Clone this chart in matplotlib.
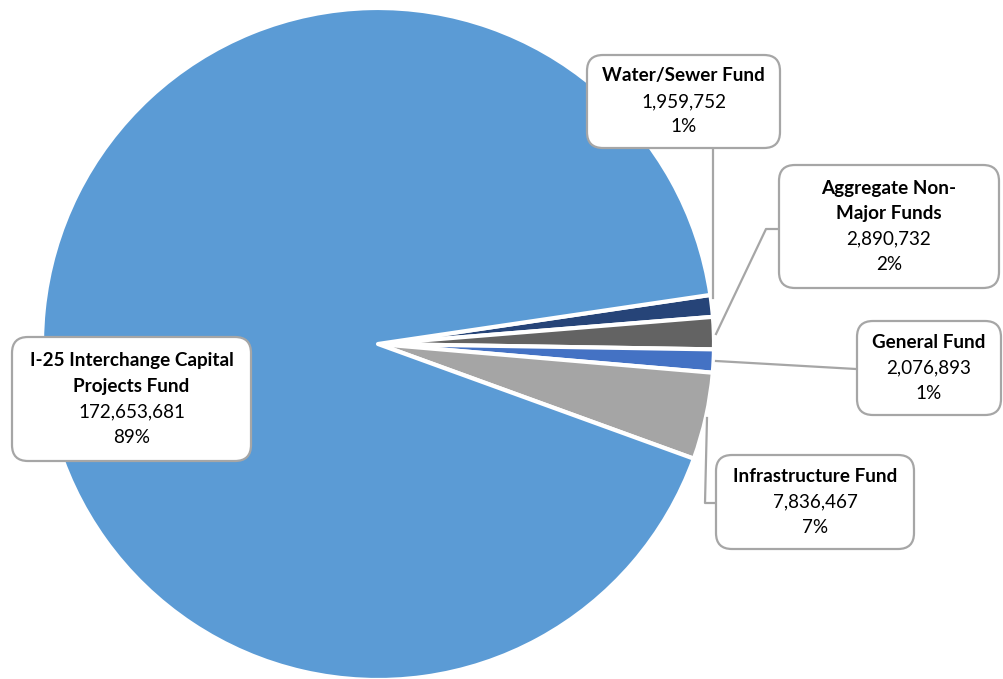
import matplotlib.pyplot as plt
from matplotlib.patches import FancyBboxPatch

# fund balances, listed clockwise starting from the Water/Sewer slice
funds = ['Water/Sewer Fund', 'Aggregate Non-\nMajor Funds', 'General Fund',
         'Infrastructure Fund', 'I-25 Interchange Capital\nProjects Fund']
amounts = [1959752, 2890732, 2076893, 7836467, 172653681]
pct_labels = ['1%', '2%', '1%', '7%', '89%']
colors = ['#264478', '#636363', '#4472C4', '#A5A5A5', '#5B9BD5']

W, H = 1004, 679
fig = plt.figure(figsize=(W / 100, H / 100), dpi=100)
ax = fig.add_axes([0, 0, 1, 1])

plt.rcParams['font.family'] = ['Lato', 'DejaVu Sans']

cx, cy, r = 378, H - 344, 336
ax.pie(amounts, colors=colors, startangle=8.4, counterclock=False,
       center=(cx, cy), radius=r,
       wedgeprops=dict(edgecolor='white', linewidth=3, joinstyle='round'))

ax.set_xlim(0, W)
ax.set_ylim(0, H)
ax.set_aspect('equal')
ax.axis('off')

# label boxes: left, top, right, bottom in pixels from top-left
boxes = [(587, 55, 780, 148), (779, 165, 999, 288), (857, 321, 1001, 415),
         (716, 455, 914, 549), (12, 337, 251, 461)]

# leader lines in pixels from top-left
leaders = [
    [(713, 148), (713, 298)],
    [(778, 229), (766, 229), (716, 334)],
    [(856, 369), (716, 361)],
    [(716, 503), (705, 503), (707, 418)],
    None,
]

line_gap = 25.5
pad = 16
for name, amt, pct, box, lead in zip(funds, amounts, pct_labels, boxes, leaders):
    x0, y0, x1, y1 = box
    ax.add_patch(FancyBboxPatch((x0 + pad, H - y1 + pad), (x1 - x0) - 2 * pad, (y1 - y0) - 2 * pad,
                                boxstyle=f'round,pad={pad}', facecolor='white',
                                edgecolor='#A6A6A6', linewidth=1.6, zorder=5))
    lines = [(s, 'bold') for s in name.split('\n')]
    lines += [(f'{amt:,}', 'normal'), (pct, 'normal')]
    xm = (x0 + x1) / 2
    ym = H - (y0 + y1) / 2
    top = ym + line_gap * (len(lines) - 1) / 2
    for i, (s, w) in enumerate(lines):
        ax.text(xm, top - i * line_gap, s, ha='center', va='center',
                fontsize=13.6, fontweight=w, color='black', zorder=6)
    if lead:
        ax.plot([p[0] for p in lead], [H - p[1] for p in lead],
                color='#A6A6A6', linewidth=1.6, zorder=4)

fig.savefig('out.png', dpi=100)
